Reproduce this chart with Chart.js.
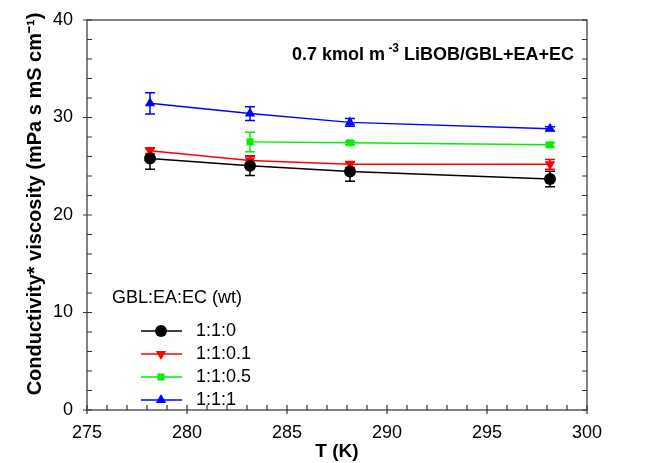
<!DOCTYPE html>
<html>
<head>
<meta charset="utf-8">
<script src="https://cdn.jsdelivr.net/npm/chart.js@4"></script>
<style>
  html, body { margin: 0; padding: 0; background: #fff; }
  #wrap { width: 659px; height: 463px; }
</style>
</head>
<body>
<div id="wrap"><canvas id="chart" width="659" height="463"></canvas></div>
<script>
// temperatures (K)
const temps = [278.15, 283.15, 288.15, 298.15];

// conductivity * viscosity, and error bar half-widths
const series = ["1:1:0", "1:1:0.1", "1:1:0.5", "1:1:1"];
const vals110 = [25.8, 25.05, 24.45, 23.7];
const err110 = [1.1, 1.0, 1.0, 0.8];
const vals1101 = [26.6, 25.6, 25.2, 25.2];
const err1101 = [0.3, 0.4, 0.3, 0.5];
const vals1105 = [null, 27.5, 27.4, 27.2];
const err1105 = [0, 1.0, 0.2, 0.2];
const vals111 = [31.45, 30.4, 29.5, 28.85];
const err111 = [1.1, 0.7, 0.4, 0.2];

const xTicks = [275, 280, 285, 290, 295, 300];
const yTicks = [0, 10, 20, 30, 40];

const colors = ["#000000", "#ff0000", "#00ee00", "#0000ff"];
const markers = ["circle", "triangle", "rect", "triangle"];
const rotations = [0, 180, 0, 0];
const allVals = [vals110, vals1101, vals1105, vals111];
const allErr = [err110, err1101, err1105, err111];

const font = "'Liberation Sans', Arial, sans-serif";

const datasets = series.map((name, i) => ({
  label: name,
  data: temps.map((t, j) => ({ x: t, y: allVals[i][j] })).filter(p => p.y !== null),
  errs: allErr[i].filter((e, j) => allVals[i][j] !== null),
  borderColor: colors[i],
  backgroundColor: colors[i],
  borderWidth: 1.5,
  pointStyle: markers[i],
  rotation: rotations[i],
  pointRadius: markers[i] === "rect" ? 5 : 6,
  pointBorderWidth: 0,
  showLine: true,
  tension: 0
}));

// error bars, drawn under the points
const errorBars = {
  id: "errorBars",
  beforeDatasetsDraw(chart) {
    const { ctx, scales: { x, y } } = chart;
    ctx.save();
    ctx.lineWidth = 1.5;
    chart.data.datasets.forEach(ds => {
      ctx.strokeStyle = ds.borderColor;
      ds.data.forEach((p, j) => {
        const e = ds.errs[j];
        if (!e) return;
        const px = x.getPixelForValue(p.x);
        const top = y.getPixelForValue(p.y + e);
        const bot = y.getPixelForValue(p.y - e);
        ctx.beginPath();
        ctx.moveTo(px, top); ctx.lineTo(px, bot);
        ctx.moveTo(px - 5, top); ctx.lineTo(px + 5, top);
        ctx.moveTo(px - 5, bot); ctx.lineTo(px + 5, bot);
        ctx.stroke();
      });
    });
    ctx.restore();
  }
};

// frame, inward ticks, y title, annotation, legend
const decorations = {
  id: "decorations",
  afterDraw(chart) {
    const { ctx, chartArea: a, scales: { x, y } } = chart;
    ctx.save();
    ctx.strokeStyle = "#333";
    ctx.lineWidth = 1.2;
    ctx.strokeRect(a.left, a.top, a.right - a.left, a.bottom - a.top);

    ctx.beginPath();
    for (let v = 275; v <= 300; v++) {
      const px = x.getPixelForValue(v);
      const major = v % 5 === 0;
      ctx.moveTo(px, a.bottom + (major ? 4 : 0));
      ctx.lineTo(px, a.bottom - 5);
    }
    for (let v = 0; v <= 40; v += 2) {
      const py = y.getPixelForValue(v);
      const major = v % 10 === 0;
      ctx.moveTo(a.left - (major ? 4 : 0), py);
      ctx.lineTo(a.left + 5, py);
      ctx.moveTo(a.right, py);
      ctx.lineTo(a.right - 5, py);
    }
    ctx.stroke();

    ctx.fillStyle = "#000";

    // y title, sits a bit above the middle like the original
    ctx.save();
    ctx.translate(35, 204);
    ctx.rotate(-Math.PI / 2);
    ctx.font = "bold 20px " + font;
    ctx.textAlign = "center";
    ctx.textBaseline = "middle";
    ctx.fillText("Conductivity* viscosity (mPa s mS cm⁻¹)", 0, 0);
    ctx.restore();

    // annotation
    ctx.textBaseline = "alphabetic";
    ctx.textAlign = "left";
    const big = "bold 18px " + font;
    const small = "bold 12px " + font;
    const parts = [["0.7 kmol m", big, 0], [" -3", small, -8], [" LiBOB/GBL+EA+EC", big, 0]];
    let tx = 292;
    const ty = 60;
    parts.forEach(p => {
      ctx.font = p[1];
      ctx.fillText(p[0], tx, ty + p[2]);
      tx += ctx.measureText(p[0]).width;
    });

    // legend
    ctx.font = "18px " + font;
    ctx.textBaseline = "middle";
    ctx.fillText("GBL:EA:EC (wt)", a.left + 25, 298);
    chart.data.datasets.forEach((ds, i) => {
      const ly = 331 + i * 23;
      ctx.strokeStyle = ds.borderColor;
      ctx.lineWidth = 1.5;
      ctx.beginPath();
      ctx.moveTo(a.left + 54, ly);
      ctx.lineTo(a.left + 95, ly);
      ctx.stroke();
      ctx.fillStyle = ds.backgroundColor;
      Chart.helpers.drawPoint(ctx, {
        pointStyle: ds.pointStyle, radius: ds.pointRadius, rotation: ds.rotation, borderWidth: 0
      }, a.left + 74, ly);
      ctx.fillStyle = "#000";
      ctx.fillText(ds.label, a.left + 109, ly);
    });
    ctx.restore();
  }
};

new Chart(document.getElementById("chart"), {
  type: "scatter",
  data: { datasets },
  options: {
    responsive: false,
    animation: false,
    layout: { padding: { top: 20, right: 72, left: 24, bottom: 0 } },
    plugins: { legend: { display: false }, tooltip: { enabled: false } },
    scales: {
      x: {
        type: "linear",
        min: 275, max: 300,
        afterBuildTicks: s => { s.ticks = xTicks.map(v => ({ value: v })); },
        afterFit: s => { s.height = 53; s.paddingLeft = 0; s.paddingRight = 0; },
        grid: { display: false, drawTicks: false },
        border: { display: false },
        ticks: { color: "#000", font: { family: font, size: 18 }, padding: 12 },
        title: { display: true, text: "T (K)", color: "#000", font: { family: font, size: 19, weight: "bold" }, padding: 0 }
      },
      y: {
        type: "linear",
        min: 0, max: 40,
        afterBuildTicks: s => { s.ticks = yTicks.map(v => ({ value: v })); },
        afterFit: s => { s.width = 63; s.paddingTop = 0; s.paddingBottom = 0; },
        grid: { display: false, drawTicks: false },
        border: { display: false },
        ticks: { color: "#000", font: { family: font, size: 18 }, padding: 14 },
        title: { display: false }
      }
    }
  },
  plugins: [errorBars, decorations]
});
</script>
</body>
</html>
